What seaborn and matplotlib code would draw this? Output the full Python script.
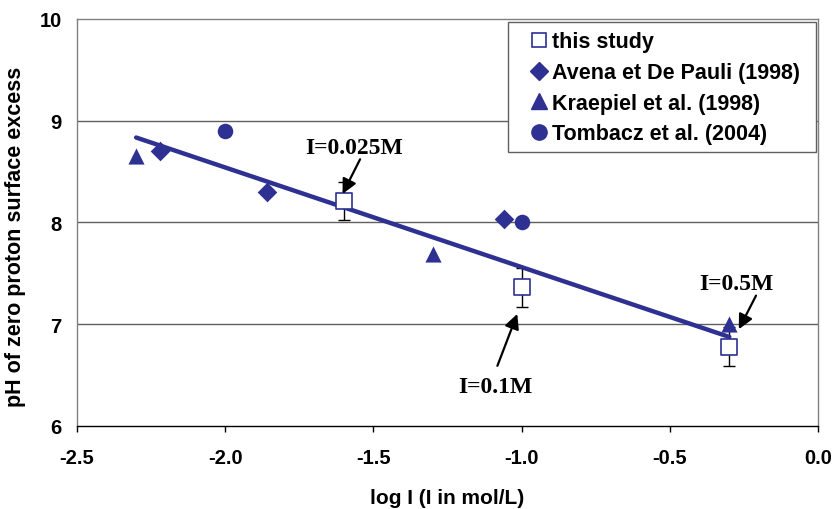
import numpy as np
import pandas as pd
import seaborn as sns
import matplotlib
matplotlib.use("Agg")
import matplotlib.pyplot as plt
from matplotlib.lines import Line2D
from matplotlib.patches import Rectangle

# ---- data ----
study_x = [-1.6, -1.0, -0.3]
study_y = [8.21, 7.36, 6.78]
study_err = [0.19, 0.19, 0.19]

avena_x = [-2.22, -1.86, -1.06]
avena_y = [8.70, 8.30, 8.03]

kraepiel_x = [-2.30, -1.30, -0.30]
kraepiel_y = [8.65, 7.69, 7.00]

tombacz_x = [-2.0, -1.0]
tombacz_y = [8.90, 8.00]

fit_x = [-2.3, -0.3]
fit_slope = -0.98
fit_intercept = 6.58

labels = ["this study", "Avena et De Pauli (1998)", "Kraepiel et al. (1998)", "Tombacz et al. (2004)"]
annotations = ["I=0.025M", "I=0.1M", "I=0.5M"]

sns.set_theme(style="white")
plt.rcParams['font.family'] = ['Liberation Sans', 'DejaVu Sans']
plt.rcParams['text.color'] = 'black'
plt.rcParams['axes.labelcolor'] = 'black'
plt.rcParams['xtick.color'] = 'black'
plt.rcParams['ytick.color'] = 'black'

color = '#2E3192'

fig = plt.figure(figsize=(8.35, 5.10), dpi=100)
ax = fig.add_axes([0.092, 0.163, 0.888, 0.798])

# grid lines
for yv in [7, 8, 9]:
    ax.axhline(yv, color='#606060', lw=1.0, zorder=0)

# fit line
fy = [fit_intercept + fit_slope * x for x in fit_x]
sns.lineplot(x=fit_x, y=fy, ax=ax, color=color, lw=3.2, zorder=3)

# error bars for this study
ax.errorbar(study_x, study_y, yerr=study_err, fmt='none', ecolor='black',
            elinewidth=1.0, capsize=4, capthick=1.0, zorder=2)

sns.scatterplot(x=study_x, y=study_y, ax=ax, marker='s', s=120,
                facecolor='white', edgecolor=color, linewidth=1.2, zorder=4)
sns.scatterplot(x=avena_x, y=avena_y, ax=ax, marker='D', s=100,
                color=color, edgecolor=color, linewidth=0, zorder=4)
sns.scatterplot(x=kraepiel_x, y=kraepiel_y, ax=ax, marker='^', s=135,
                color=color, edgecolor=color, linewidth=0, zorder=4)
sns.scatterplot(x=tombacz_x, y=tombacz_y, ax=ax, marker='o', s=125,
                color=color, edgecolor=color, linewidth=0, zorder=4)

ax.set_xlim(-2.5, 0.0)
ax.set_ylim(6, 10)
ax.set_xticks(np.arange(-2.5, 0.01, 0.5))
ax.set_xticklabels([f"{v:.1f}" for v in np.arange(-2.5, 0.01, 0.5)])
ax.set_yticks([6, 7, 8, 9, 10])
for lab in ax.get_xticklabels() + ax.get_yticklabels():
    lab.set_fontweight('bold')
    lab.set_fontsize(14.5)
ax.tick_params(axis='x', direction='out', length=4, width=1, color='black',
               bottom=True, pad=12)
ax.tick_params(axis='y', length=0, pad=11, left=True)

ax.set_xlabel("log I (I in mol/L)", fontsize=15, fontweight='bold', labelpad=15)
ax.set_ylabel("pH of zero proton surface excess", fontsize=15.5, fontweight='bold')
ax.yaxis.set_label_coords(-0.068, 0.467)

for s in ax.spines.values():
    s.set_color('#808080')
    s.set_linewidth(1.0)
ax.spines['bottom'].set_color('black')

# annotations
serif = ['Liberation Serif', 'DejaVu Serif']
ann_pos = [(-1.566, 8.74), (-1.09, 6.39), (-0.276, 7.40)]
arrow_tail = [(-1.545, 8.62), (-1.082, 6.59), (-0.210, 7.28)]
arrow_head = [(-1.604, 8.28), (-1.015, 7.10), (-0.268, 6.95)]
for txt, p, t, h in zip(annotations, ann_pos, arrow_tail, arrow_head):
    ax.text(p[0], p[1], txt, family=serif, fontweight='bold', fontsize=17,
            ha='center', va='center', color='black', zorder=6)
    ax.annotate("", xy=h, xytext=t,
                arrowprops=dict(arrowstyle='-|>', color='black', lw=1.6,
                                mutation_scale=22, shrinkA=0, shrinkB=0),
                zorder=6)

# legend frame (drawn separately for exact padding)
frame = Rectangle((0.581, 0.673), 0.997 - 0.581, 0.993 - 0.673,
                  transform=ax.transAxes, facecolor='white', edgecolor='#606060',
                  lw=1.0, zorder=9)
ax.add_patch(frame)

handles = [
    Line2D([], [], ls='none', marker='s', ms=10, mfc='white', mec=color, mew=1.2),
    Line2D([], [], ls='none', marker='D', ms=9, mfc=color, mec=color),
    Line2D([], [], ls='none', marker='^', ms=11, mfc=color, mec=color),
    Line2D([], [], ls='none', marker='o', ms=11, mfc=color, mec=color),
]
leg = ax.legend(handles, labels, loc='upper right', bbox_to_anchor=(0.988, 0.993),
                prop={'weight': 'bold', 'size': 15.5}, frameon=False,
                handlelength=0.8, handletextpad=0.2, labelspacing=0.45,
                borderpad=0.45, borderaxespad=0.0)
leg.set_zorder(10)

fig.savefig("out.png", dpi=100)
